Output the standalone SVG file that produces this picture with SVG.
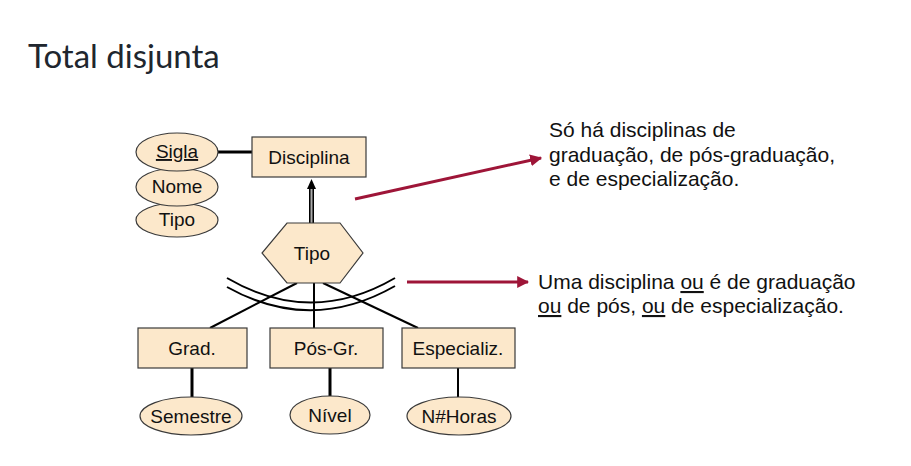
<svg xmlns="http://www.w3.org/2000/svg" width="911" height="466" viewBox="0 0 911 466">
<defs>
<style>
.box{fill:#fce8cb;stroke:#3a3a3a;stroke-width:1.2}
.lbl{font-family:"Liberation Sans",Arial,sans-serif;font-size:19px;fill:#111;text-anchor:middle}
.note{font-family:"Liberation Sans",Arial,sans-serif;font-size:21px;fill:#111}
.ln{stroke:#000;stroke-width:2;fill:none}
.red{stroke:#9e1538;stroke-width:3;fill:none}
</style>
<marker id="rh" viewBox="0 0 10 10" refX="9" refY="5" markerWidth="4" markerHeight="4" orient="auto" markerUnits="strokeWidth">
<path d="M0,0 L10,5 L0,10 z" fill="#9e1538"/>
</marker>
</defs>
<rect width="911" height="466" fill="#fff"/>
<text x="28" y="68" style="font-family:Lato,'Liberation Sans',sans-serif;font-size:33px;fill:#20262e">Total disjunta</text>

<g id="connectors">
<line class="ln" x1="218" y1="152" x2="252" y2="152" style="stroke-width:3"/>
<line x1="311.5" y1="223" x2="311.5" y2="188" stroke="#000" stroke-width="5"/>
<line x1="311.5" y1="223" x2="311.5" y2="188" stroke="#aaa" stroke-width="2"/>
<path d="M307,189 L311.5,179 L316,189 z" fill="#000"/>
<path class="ln" d="M227,278 Q311,327 395,278"/>
<path class="ln" d="M227,287 Q311,334 395,286"/>
<line class="ln" x1="297" y1="283" x2="210" y2="328"/>
<line class="ln" x1="314" y1="283" x2="314" y2="328"/>
<line class="ln" x1="323" y1="283" x2="418" y2="328"/>
<line class="ln" x1="192" y1="368" x2="192" y2="397" style="stroke-width:3"/>
<line class="ln" x1="330" y1="368" x2="330" y2="396" style="stroke-width:3"/>
<line class="ln" x1="458" y1="368" x2="458" y2="397" style="stroke-width:2"/>
<line class="red" x1="355" y1="199" x2="541" y2="158" marker-end="url(#rh)"/>
<line class="red" x1="407" y1="282" x2="528" y2="282" marker-end="url(#rh)"/>
</g>

<g id="attr-tipo"><ellipse class="box" cx="177" cy="220" rx="41" ry="17"/><text class="lbl" x="177" y="226">Tipo</text></g>
<g id="attr-nome"><ellipse class="box" cx="177" cy="187" rx="41" ry="19"/><text class="lbl" x="177" y="193">Nome</text></g>
<g id="attr-sigla"><ellipse class="box" cx="177" cy="152" rx="41" ry="19"/><text class="lbl" x="177" y="158" text-decoration="underline">Sigla</text></g>

<g id="disciplina"><rect class="box" x="252" y="137" width="114" height="40"/><text class="lbl" x="309" y="164">Disciplina</text></g>
<g id="tipo-hex"><polygon class="box" points="287,223 340,223 363,253 340,283 287,283 262,253"/><text class="lbl" x="312" y="260">Tipo</text></g>

<g id="grad"><rect class="box" x="138" y="328" width="109" height="40"/><text class="lbl" x="192" y="355">Grad.</text></g>
<g id="posgr"><rect class="box" x="270" y="328" width="113" height="40"/><text class="lbl" x="326" y="355">Pós-Gr.</text></g>
<g id="especializ"><rect class="box" x="402" y="328" width="113" height="40"/><text class="lbl" x="458" y="355">Especializ.</text></g>

<g id="semestre"><ellipse class="box" cx="191" cy="416" rx="51" ry="19"/><text class="lbl" x="191" y="423">Semestre</text></g>
<g id="nivel"><ellipse class="box" cx="330" cy="415" rx="40" ry="19"/><text class="lbl" x="330" y="422">Nível</text></g>
<g id="nhoras"><ellipse class="box" cx="459" cy="416" rx="52" ry="19"/><text class="lbl" x="459" y="423">N#Horas</text></g>

<g id="note1">
<text class="note" x="549" y="137">Só há disciplinas de</text>
<text class="note" x="549" y="162">graduação, de pós-graduação,</text>
<text class="note" x="549" y="186">e de especialização.</text>
</g>
<g id="note2">
<text class="note" x="538" y="289">Uma disciplina <tspan text-decoration="underline">ou</tspan> é de graduação</text>
<text class="note" x="538" y="313"><tspan text-decoration="underline">ou</tspan> de pós, <tspan text-decoration="underline">ou</tspan> de especialização.</text>
</g>
</svg>
